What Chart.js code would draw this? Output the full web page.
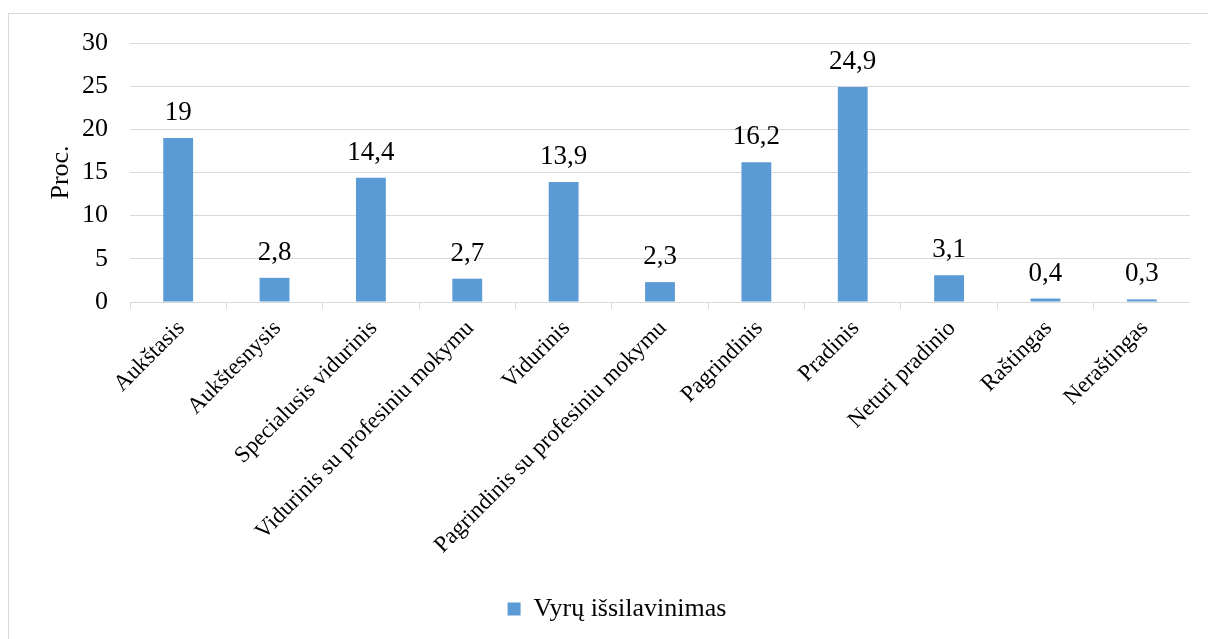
<!DOCTYPE html>
<html>
<head>
<meta charset="utf-8">
<script src="https://cdn.jsdelivr.net/npm/chart.js@4.4.1/dist/chart.umd.min.js"></script>
<style>
  html, body { margin: 0; padding: 0; background: #fff; overflow: hidden; }
  body { width: 1208px; height: 639px; position: relative; }
  #frame { position: absolute; left: 8px; top: 13px; width: 1300px; height: 700px; border: 1px solid #d9d9d9; }
  #wrap { position: absolute; left: 44px; top: 0; width: 1146px; height: 639px; }
</style>
</head>
<body>
<div id="frame"></div>
<div id="wrap"><canvas id="chart"></canvas></div>
<script>
  // ─── Data ───────────────────────────────────────────────────────────────────
  const categories = [
    "Aukštasis", "Aukštesnysis", "Specialusis vidurinis", "Vidurinis su profesiniu mokymu",
    "Vidurinis", "Pagrindinis su profesiniu mokymu", "Pagrindinis", "Pradinis",
    "Neturi pradinio", "Raštingas", "Neraštingas",
  ];
  const menValues = [19, 2.8, 14.4, 2.7, 13.9, 2.3, 16.2, 24.9, 3.1, 0.4, 0.3];
  const yTicks = [0, 5, 10, 15, 20, 25, 30];
  const seriesName = "Vyrų išsilavinimas";
  const yTitle = "Proc.";

  const FONT = '"Liberation Serif", "Times New Roman", serif';
  const BAR = "#5b9bd5";
  const GRID = "#d9d9d9";

  const fmt = (v) => String(v).replace(".", ",");

  // value labels above each bar
  const barLabels = {
    id: "barLabels",
    afterDatasetsDraw(chart) {
      const ctx = chart.ctx;
      const meta = chart.getDatasetMeta(0);
      ctx.save();
      ctx.font = "27px " + FONT;
      ctx.fillStyle = "#000";
      ctx.textAlign = "center";
      ctx.textBaseline = "alphabetic";
      meta.data.forEach((bar, i) => {
        ctx.fillText(fmt(menValues[i]), bar.x, bar.y - 18);
      });
      ctx.restore();
    },
  };

  new Chart(document.getElementById("chart"), {
    type: "bar",
    data: {
      labels: categories,
      datasets: [{
        label: seriesName,
        data: menValues,
        backgroundColor: BAR,
        categoryPercentage: 1,
        barPercentage: 0.31,
      }],
    },
    options: {
      responsive: true,
      maintainAspectRatio: false,
      animation: false,
      layout: { padding: { top: 43, right: 0, bottom: 7, left: 0 } },
      plugins: {
        legend: {
          position: "bottom",
          labels: { color: "#000", boxWidth: 13, boxHeight: 13, padding: 10, font: { family: FONT, size: 26 } },
        },
        tooltip: { enabled: false },
      },
      scales: {
        x: {
          afterFit: (s) => { s.height = 284; },
          grid: { display: true, drawOnChartArea: false, offset: true, color: GRID, tickLength: 7 },
          border: { color: GRID },
          ticks: { autoSkip: false, minRotation: 45, maxRotation: 45, padding: 6, labelOffset: 3, color: "#000", font: { family: FONT, size: 23 } },
        },
        y: {
          min: 0,
          max: 30,
          afterFit: (s) => { s.width = 86; },
          afterBuildTicks: (s) => { s.ticks = yTicks.map((v) => ({ value: v })); },
          grid: { color: GRID, drawTicks: false },
          border: { display: false },
          ticks: { padding: 22, color: "#000", font: { family: FONT, size: 26 } },
          title: { display: true, text: yTitle, color: "#000", padding: { top: 2, bottom: 0 }, font: { family: FONT, size: 26 } },
        },
      },
    },
    plugins: [barLabels],
  });
</script>
</body>
</html>
